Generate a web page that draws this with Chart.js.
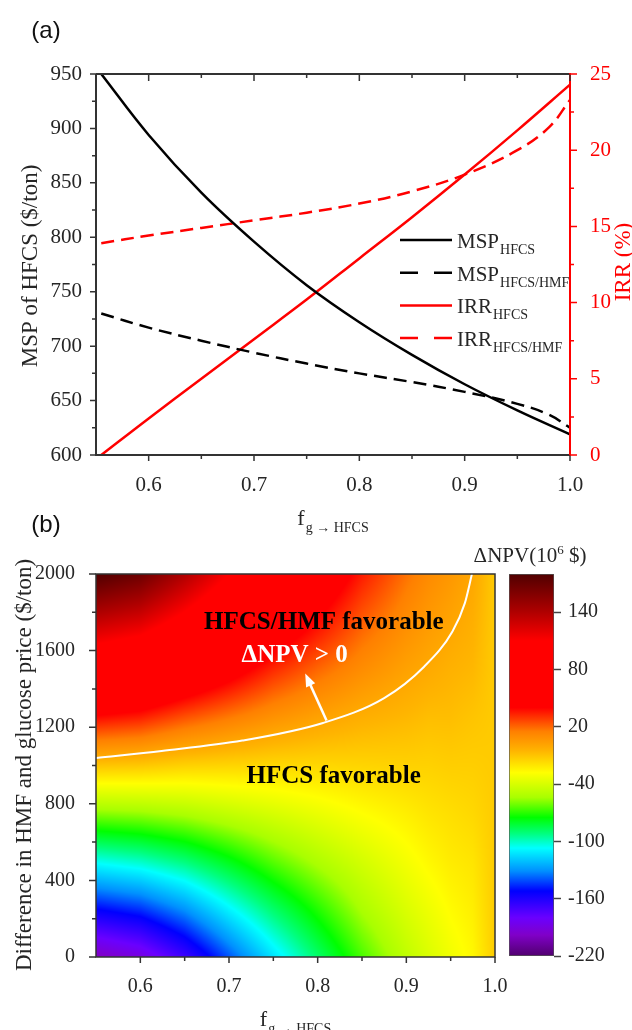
<!DOCTYPE html>
<html>
<head>
<meta charset="utf-8">
<script src="https://cdn.jsdelivr.net/npm/chart.js@4.4.1/dist/chart.umd.min.js"></script>
<style>
  html, body { margin: 0; padding: 0; background: #fff; }
  #page { position: relative; width: 632px; height: 1030px; overflow: hidden; }
  canvas { position: absolute; }
  #cA { left: 0; top: 0; }
  #cB { left: 0; top: 540px; }
  #cC { left: 440px; top: 540px; }
</style>
</head>
<body>
<div id="page">
  <canvas id="cA" width="632" height="540"></canvas>
  <canvas id="cB" width="520" height="490"></canvas>
  <canvas id="cC" width="192" height="490"></canvas>
</div>
<script>
(function () {
    'use strict';

    /* ─── Panel (a): MSP and IRR vs f(g→HFCS) ─── */
    var FA_X     = [0.555, 0.6, 0.65, 0.7, 0.75, 0.8, 0.85, 0.9, 0.95, 1.0];
    var MSP_HFCS = [950, 894, 841, 796, 756, 722, 692, 665, 641, 619];
    var IRR_HFCS = [0, 2.4, 5.0, 7.6, 10.2, 12.9, 15.6, 18.4, 21.3, 24.3];

    var FB_X     = [0.555, 0.6, 0.65, 0.7, 0.75, 0.8, 0.85, 0.9, 0.95, 0.98, 1.0];
    var MSP_HMF  = [730, 717, 705, 694, 684, 675, 667, 658, 647, 637, 625];
    var IRR_HMF  = [13.9, 14.4, 14.9, 15.4, 15.9, 16.5, 17.3, 18.4, 20.0, 21.5, 23.3];

    var X_TICKS  = [0.6, 0.7, 0.8, 0.9, 1.0];
    var X_MINOR  = [0.65, 0.75, 0.85, 0.95];
    var YL_TICKS = [600, 650, 700, 750, 800, 850, 900, 950];
    var YL_MINOR = [625, 675, 725, 775, 825, 875, 925];
    var YR_TICKS = [0, 5, 10, 15, 20, 25];
    var YR_MINOR = [2.5, 7.5, 12.5, 17.5, 22.5];

    /* ─── Panel (b): ΔNPV map (10^6 $) ─── */
    var HM_X = [0.55, 0.6, 0.65, 0.7, 0.75, 0.8, 0.85, 0.9, 0.925, 0.95, 0.975, 1.0];
    var HM_Y = [0, 250, 500, 750, 1000, 1250, 1500, 1750, 2000];
    var HM_Z = [
        [-200, -190, -168, -140, -113, -89, -66, -47, -39, -32, -26, -12],
        [-152, -145, -130, -109,  -89, -71, -53, -39, -33, -27, -23, -12],
        [-105, -100,  -91,  -78,  -64, -52, -41, -31, -26, -22, -20, -12],
        [ -58,  -56,  -52,  -46,  -40, -34, -28, -23, -20, -18, -16, -12],
        [ -10,  -11,  -14,  -15,  -16, -16, -15, -14, -14, -13, -13, -12],
        [  38,   34,   24,   16,    8,   2,  -3,  -6,  -8,  -8, -10, -12],
        [  85,   78,   63,   48,   32,  20,  10,   2,  -1,  -4,  -6, -12],
        [ 132,  123,  102,   79,   57,  39,  22,  10,   5,   1,  -3, -12],
        [ 180,  168,  140,  110,   81,  57,  35,  18,  11,   6,   0, -12]
    ];
    var CONTOUR_X = [0.55, 0.624, 0.715, 0.806, 0.875, 0.92, 0.952, 0.966, 0.974];
    var CONTOUR_Y = [1039, 1076, 1130, 1222, 1352, 1516, 1700, 1848, 2000];

    var YB_TICKS = [0, 400, 800, 1200, 1600, 2000];
    var YB_MINOR = [200, 600, 1000, 1400, 1800];
    var CBAR_MIN = -220;
    var CBAR_MAX = 180;
    var CBAR_TICKS = [-220, -160, -100, -40, 20, 80, 140];

    // colour scale of the map (value -> colour)
    var CMAP = [
        [-220, '#50006e'], [-198, '#8000c8'], [-180, '#6a00ff'], [-152, '#0000ff'],
        [-131, '#0090ff'], [-107, '#00ffff'], [-92, '#00ff80'], [-75, '#00ff00'],
        [-54, '#a8ff00'], [-28, '#ffff00'], [-5, '#ffb400'], [15, '#ff8000'],
        [40, '#ff0000'], [110, '#ff0000'], [140, '#b00000'], [180, '#500000']
    ];

    var SERIF = "'Liberation Serif', 'Times New Roman', serif";
    var SANS = "'Liberation Sans', Arial, sans-serif";
    var INK = '#262626';
    var FRAME = '#333';
    var RED = '#ff0000';

    /* ─── helpers ─── */
    function marksX(ctx, scale, vals, yBase, dy, color) {
        ctx.save();
        ctx.strokeStyle = color;
        ctx.lineWidth = 1.5;
        ctx.beginPath();
        vals.forEach(function (v) {
            var p = scale.getPixelForValue(v);
            ctx.moveTo(p, yBase);
            ctx.lineTo(p, yBase + dy);
        });
        ctx.stroke();
        ctx.restore();
    }

    function marksY(ctx, scale, vals, xBase, dx, color) {
        ctx.save();
        ctx.strokeStyle = color;
        ctx.lineWidth = 1.5;
        ctx.beginPath();
        vals.forEach(function (v) {
            var p = scale.getPixelForValue(v);
            ctx.moveTo(xBase, p);
            ctx.lineTo(xBase + dx, p);
        });
        ctx.stroke();
        ctx.restore();
    }

    function vtext(ctx, text, x, y, size, color) {
        ctx.save();
        ctx.translate(x, y);
        ctx.rotate(-Math.PI / 2);
        ctx.font = size + 'px ' + SERIF;
        ctx.fillStyle = color;
        ctx.textAlign = 'center';
        ctx.textBaseline = 'middle';
        ctx.fillText(text, 0, 0);
        ctx.restore();
    }

    // base text followed by a subscript; x is the left edge or the centre
    function subText(ctx, base, sub, x, y, size, subSize, drop, centered, color) {
        ctx.save();
        ctx.fillStyle = color;
        ctx.textAlign = 'left';
        ctx.textBaseline = 'alphabetic';
        ctx.font = size + 'px ' + SERIF;
        var wb = ctx.measureText(base).width;
        ctx.font = subSize + 'px ' + SERIF;
        var ws = ctx.measureText(sub).width;
        var x0 = centered ? x - (wb + 1 + ws) / 2 : x;
        ctx.font = size + 'px ' + SERIF;
        ctx.fillText(base, x0, y);
        ctx.font = subSize + 'px ' + SERIF;
        ctx.fillText(sub, x0 + wb + 1, y + drop);
        ctx.restore();
    }

    var CMAP_RGB = CMAP.map(function (s) {
        var h = s[1];
        return [s[0], parseInt(h.slice(1, 3), 16), parseInt(h.slice(3, 5), 16), parseInt(h.slice(5, 7), 16)];
    });

    function rgbFor(v) {
        if (v <= CMAP_RGB[0][0]) return CMAP_RGB[0].slice(1);
        for (var k = 0; k < CMAP_RGB.length - 1; k++) {
            var a = CMAP_RGB[k], b = CMAP_RGB[k + 1];
            if (v <= b[0]) {
                var t = (v - a[0]) / (b[0] - a[0]);
                return [a[1] + (b[1] - a[1]) * t, a[2] + (b[2] - a[2]) * t, a[3] + (b[3] - a[3]) * t];
            }
        }
        return CMAP_RGB[CMAP_RGB.length - 1].slice(1);
    }

    function locate(arr, v) {
        var i = 0;
        while (i < arr.length - 2 && v > arr[i + 1]) i++;
        var t = (v - arr[i]) / (arr[i + 1] - arr[i]);
        return [i, Math.min(1, Math.max(0, t))];
    }

    function npvAt(xv, yv) {
        var cx = locate(HM_X, xv), cy = locate(HM_Y, yv);
        var i = cx[0], tx = cx[1], j = cy[0], ty = cy[1];
        var lo = HM_Z[j][i] * (1 - tx) + HM_Z[j][i + 1] * tx;
        var hi = HM_Z[j + 1][i] * (1 - tx) + HM_Z[j + 1][i + 1] * tx;
        return lo * (1 - ty) + hi * ty;
    }

    function axis(extra) {
        return Object.assign({ type: 'linear', grid: { display: false }, border: { display: false } }, extra);
    }

    function fixedTicks(list) {
        return function (scale) {
            scale.ticks = list.map(function (v) { return { value: v }; });
        };
    }

    function plain(v) { return String(v); }
    function oneDecimal(v) { return Number(v).toFixed(1); }

    var tickFontA = { family: SERIF, size: 21 };
    var tickFontB = { family: SERIF, size: 20 };

    /* ─── Chart (a) ─── */
    var panelA = {
        id: 'panelA',
        afterDatasetsDraw: function (chart) {
            var ctx = chart.ctx, a = chart.chartArea, s = chart.scales;
            ctx.save();
            ctx.lineWidth = 2;
            ctx.strokeStyle = FRAME;
            ctx.beginPath();
            ctx.moveTo(a.left, a.top); ctx.lineTo(a.right, a.top);
            ctx.moveTo(a.left, a.top); ctx.lineTo(a.left, a.bottom); ctx.lineTo(a.right, a.bottom);
            ctx.stroke();
            ctx.strokeStyle = RED;
            ctx.beginPath();
            ctx.moveTo(a.right, a.top - 1); ctx.lineTo(a.right, a.bottom + 1);
            ctx.stroke();
            ctx.restore();

            marksX(ctx, s.x, X_TICKS, a.bottom, 6, FRAME);
            marksX(ctx, s.x, X_MINOR, a.bottom, 4, FRAME);
            marksX(ctx, s.x, X_TICKS, a.top, 7, FRAME);
            marksX(ctx, s.x, X_MINOR, a.top, 4, FRAME);
            marksY(ctx, s.y, YL_TICKS, a.left, -6, FRAME);
            marksY(ctx, s.y, YL_MINOR, a.left, -4, FRAME);
            marksY(ctx, s.y1, YR_TICKS, a.right, 7, RED);
            marksY(ctx, s.y1, YR_MINOR, a.right, 4, RED);
        },
        afterDraw: function (chart) {
            var ctx = chart.ctx, a = chart.chartArea;

            // legend with subscripts
            chart.data.datasets.forEach(function (ds, i) {
                var yy = 240 + i * 32.7;
                ctx.save();
                ctx.strokeStyle = ds.borderColor;
                ctx.lineWidth = 2.5;
                ctx.setLineDash(ds.borderDash ? [18, 16] : []);
                ctx.beginPath();
                ctx.moveTo(400, yy); ctx.lineTo(452, yy);
                ctx.stroke();
                ctx.restore();
                subText(ctx, ds.legendBase, ds.legendSub, 457, yy + 8, 21, 14, 6, false, INK);
            });

            ctx.save();
            ctx.font = '24px ' + SANS;
            ctx.fillStyle = '#111';
            ctx.textAlign = 'center';
            ctx.textBaseline = 'middle';
            ctx.fillText('(a)', 46, 31);
            ctx.fillText('(b)', 46, 525);
            ctx.restore();

            vtext(ctx, 'MSP of HFCS ($/ton)', 31, 266, 23, INK);
            vtext(ctx, 'IRR (%)', 624, 262, 23, RED);
            subText(ctx, 'f', 'g \u2192 HFCS', (a.left + a.right) / 2, 525, 22, 14, 7, true, INK);
        }
    };

    new Chart(document.getElementById('cA'), {
        type: 'line',
        data: {
            datasets: [
                {
                    label: 'MSP HFCS', legendBase: 'MSP', legendSub: 'HFCS', yAxisID: 'y',
                    data: FA_X.map(function (x, i) { return { x: x, y: MSP_HFCS[i] }; }),
                    borderColor: '#000', borderWidth: 2.5
                },
                {
                    label: 'MSP HFCS/HMF', legendBase: 'MSP', legendSub: 'HFCS/HMF', yAxisID: 'y',
                    data: FB_X.map(function (x, i) { return { x: x, y: MSP_HMF[i] }; }),
                    borderColor: '#000', borderWidth: 2.5, borderDash: [13, 7]
                },
                {
                    label: 'IRR HFCS', legendBase: 'IRR', legendSub: 'HFCS', yAxisID: 'y1',
                    data: FA_X.map(function (x, i) { return { x: x, y: IRR_HFCS[i] }; }),
                    borderColor: RED, borderWidth: 2.5
                },
                {
                    label: 'IRR HFCS/HMF', legendBase: 'IRR', legendSub: 'HFCS/HMF', yAxisID: 'y1',
                    data: FB_X.map(function (x, i) { return { x: x, y: IRR_HMF[i] }; }),
                    borderColor: RED, borderWidth: 2.5, borderDash: [13, 7]
                }
            ]
        },
        options: {
            responsive: false,
            animation: false,
            events: [],
            layout: { padding: { top: 74, left: 0, right: 0, bottom: 0 } },
            elements: {
                point: { radius: 0 },
                line: { tension: 0.4, fill: false }
            },
            plugins: { legend: { display: false }, tooltip: { enabled: false } },
            scales: {
                x: axis({
                    position: 'bottom', min: 0.55, max: 1.0,
                    afterBuildTicks: fixedTicks(X_TICKS),
                    afterFit: function (s) { s.height = 85; },
                    ticks: { font: tickFontA, color: INK, padding: 10, maxRotation: 0, callback: oneDecimal }
                }),
                y: axis({
                    position: 'left', min: 600, max: 950,
                    afterBuildTicks: fixedTicks(YL_TICKS),
                    afterFit: function (s) { s.width = 96; },
                    ticks: { font: tickFontA, color: INK, padding: 6, callback: plain }
                }),
                y1: axis({
                    position: 'right', min: 0, max: 25,
                    afterBuildTicks: fixedTicks(YR_TICKS),
                    afterFit: function (s) { s.width = 62; },
                    ticks: { font: tickFontA, color: RED, padding: 12, callback: plain }
                })
            }
        },
        plugins: [panelA]
    });

    /* ─── Chart (b) ─── */
    var NOTES = [
        { text: 'HFCS/HMF favorable', x: 0.807, y: 1744, color: '#000' },
        { text: '\u0394NPV > 0', x: 0.774, y: 1572, color: '#fff' },
        { text: 'HFCS favorable', x: 0.818, y: 940, color: '#000' }
    ];
    var ARROW = { x0: 0.81, y0: 1235, x1: 0.786, y1: 1480 };

    var panelB = {
        id: 'panelB',
        beforeDatasetsDraw: function (chart) {
            var ctx = chart.ctx, a = chart.chartArea, sx = chart.scales.x, sy = chart.scales.y;
            var w = Math.round(a.right - a.left), h = Math.round(a.bottom - a.top);
            var off = document.createElement('canvas');
            off.width = w; off.height = h;
            var octx = off.getContext('2d');
            var img = octx.createImageData(w, h);
            var xs = [];
            for (var i = 0; i < w; i++) xs.push(sx.getValueForPixel(a.left + i + 0.5));
            for (var j = 0; j < h; j++) {
                var yv = sy.getValueForPixel(a.top + j + 0.5);
                for (var k = 0; k < w; k++) {
                    var c = rgbFor(npvAt(xs[k], yv));
                    var p = (j * w + k) * 4;
                    img.data[p] = c[0]; img.data[p + 1] = c[1]; img.data[p + 2] = c[2]; img.data[p + 3] = 255;
                }
            }
            octx.putImageData(img, 0, 0);
            ctx.drawImage(off, a.left, a.top);
        },
        afterDatasetsDraw: function (chart) {
            var ctx = chart.ctx, a = chart.chartArea, sx = chart.scales.x, sy = chart.scales.y;

            NOTES.forEach(function (n) {
                ctx.save();
                ctx.font = 'bold 25px ' + SERIF;
                ctx.fillStyle = n.color;
                ctx.textAlign = 'center';
                ctx.textBaseline = 'middle';
                ctx.fillText(n.text, sx.getPixelForValue(n.x), sy.getPixelForValue(n.y));
                ctx.restore();
            });

            var x0 = sx.getPixelForValue(ARROW.x0), y0 = sy.getPixelForValue(ARROW.y0);
            var x1 = sx.getPixelForValue(ARROW.x1), y1 = sy.getPixelForValue(ARROW.y1);
            var ang = Math.atan2(y1 - y0, x1 - x0);
            ctx.save();
            ctx.strokeStyle = '#fff';
            ctx.fillStyle = '#fff';
            ctx.lineWidth = 2.5;
            ctx.beginPath();
            ctx.moveTo(x0, y0);
            ctx.lineTo(x1 - 8 * Math.cos(ang), y1 - 8 * Math.sin(ang));
            ctx.stroke();
            ctx.beginPath();
            ctx.moveTo(x1, y1);
            ctx.lineTo(x1 - 13 * Math.cos(ang) + 5 * Math.sin(ang), y1 - 13 * Math.sin(ang) - 5 * Math.cos(ang));
            ctx.lineTo(x1 - 13 * Math.cos(ang) - 5 * Math.sin(ang), y1 - 13 * Math.sin(ang) + 5 * Math.cos(ang));
            ctx.closePath();
            ctx.fill();
            ctx.restore();

            ctx.save();
            ctx.lineWidth = 1.5;
            ctx.strokeStyle = FRAME;
            ctx.strokeRect(a.left, a.top, a.right - a.left, a.bottom - a.top);
            ctx.restore();

            marksX(ctx, sx, X_TICKS, a.bottom, 6, FRAME);
            marksX(ctx, sx, X_MINOR, a.bottom, 4, FRAME);
            marksY(ctx, sy, YB_TICKS, a.left, -7, FRAME);
            marksY(ctx, sy, YB_MINOR, a.left, -4, FRAME);
        },
        afterDraw: function (chart) {
            var ctx = chart.ctx, a = chart.chartArea;
            vtext(ctx, 'Difference in HMF and glucose price ($/ton)', 25, 225, 23, INK);
            subText(ctx, 'f', 'g \u2192 HFCS', (a.left + a.right) / 2, 486, 22, 14, 7, true, INK);
        }
    };

    new Chart(document.getElementById('cB'), {
        type: 'scatter',
        data: {
            datasets: [{
                label: '\u0394NPV = 0',
                data: CONTOUR_X.map(function (x, i) { return { x: x, y: CONTOUR_Y[i] }; }),
                showLine: true,
                borderColor: '#fff',
                borderWidth: 2,
                pointRadius: 0,
                cubicInterpolationMode: 'monotone'
            }]
        },
        options: {
            responsive: false,
            animation: false,
            events: [],
            layout: { padding: { top: 34, left: 0, right: 25, bottom: 0 } },
            plugins: { legend: { display: false }, tooltip: { enabled: false } },
            scales: {
                x: axis({
                    position: 'bottom', min: 0.55, max: 1.0,
                    afterBuildTicks: fixedTicks(X_TICKS),
                    afterFit: function (s) { s.height = 73; },
                    ticks: { font: tickFontB, color: INK, padding: 10, maxRotation: 0, callback: oneDecimal }
                }),
                y: axis({
                    position: 'left', min: 0, max: 2000,
                    afterBuildTicks: fixedTicks(YB_TICKS),
                    afterFit: function (s) { s.width = 96; },
                    ticks: { font: tickFontB, color: INK, padding: 13, callback: plain }
                })
            }
        },
        plugins: [panelB]
    });

    /* ─── Colour bar ─── */
    var cbarTitle = {
        id: 'cbarTitle',
        afterDraw: function (chart) {
            var ctx = chart.ctx;
            ctx.save();
            ctx.fillStyle = INK;
            ctx.textBaseline = 'alphabetic';
            ctx.textAlign = 'left';
            ctx.font = '21px ' + SERIF;
            var w1 = ctx.measureText('\u0394NPV(10').width;
            var w3 = ctx.measureText(' $)').width;
            ctx.font = '13px ' + SERIF;
            var w2 = ctx.measureText('6').width;
            var x0 = 90 - (w1 + w2 + w3) / 2;
            ctx.font = '21px ' + SERIF;
            ctx.fillText('\u0394NPV(10', x0, 22);
            ctx.fillText(' $)', x0 + w1 + w2, 22);
            ctx.font = '13px ' + SERIF;
            ctx.fillText('6', x0 + w1, 14);
            ctx.restore();
        }
    };

    new Chart(document.getElementById('cC'), {
        type: 'bar',
        data: {
            labels: ['\u0394NPV'],
            datasets: [{
                data: [[CBAR_MIN, CBAR_MAX]],
                barPercentage: 1,
                categoryPercentage: 1,
                borderWidth: 1,
                borderColor: '#555',
                borderSkipped: false,
                backgroundColor: function (c) {
                    var ch = c.chart;
                    if (!ch.chartArea) return '#fff';
                    var ys = ch.scales.y;
                    var g = ch.ctx.createLinearGradient(0, ys.getPixelForValue(CBAR_MIN), 0, ys.getPixelForValue(CBAR_MAX));
                    CMAP.forEach(function (s) {
                        g.addColorStop((s[0] - CBAR_MIN) / (CBAR_MAX - CBAR_MIN), s[1]);
                    });
                    return g;
                }
            }]
        },
        options: {
            responsive: false,
            animation: false,
            events: [],
            layout: { padding: { top: 34, left: 69, right: 0, bottom: 74 } },
            plugins: { legend: { display: false }, tooltip: { enabled: false } },
            scales: {
                x: { display: false },
                y: {
                    position: 'right', min: CBAR_MIN, max: CBAR_MAX,
                    afterBuildTicks: fixedTicks(CBAR_TICKS),
                    afterFit: function (s) { s.width = 78; },
                    grid: { display: true, drawOnChartArea: false, drawTicks: true, tickLength: 7, tickColor: '#444', tickWidth: 1.5 },
                    border: { display: false },
                    ticks: { font: tickFontB, color: INK, padding: 7, callback: plain }
                }
            }
        },
        plugins: [cbarTitle]
    });
})();
</script>
</body>
</html>
